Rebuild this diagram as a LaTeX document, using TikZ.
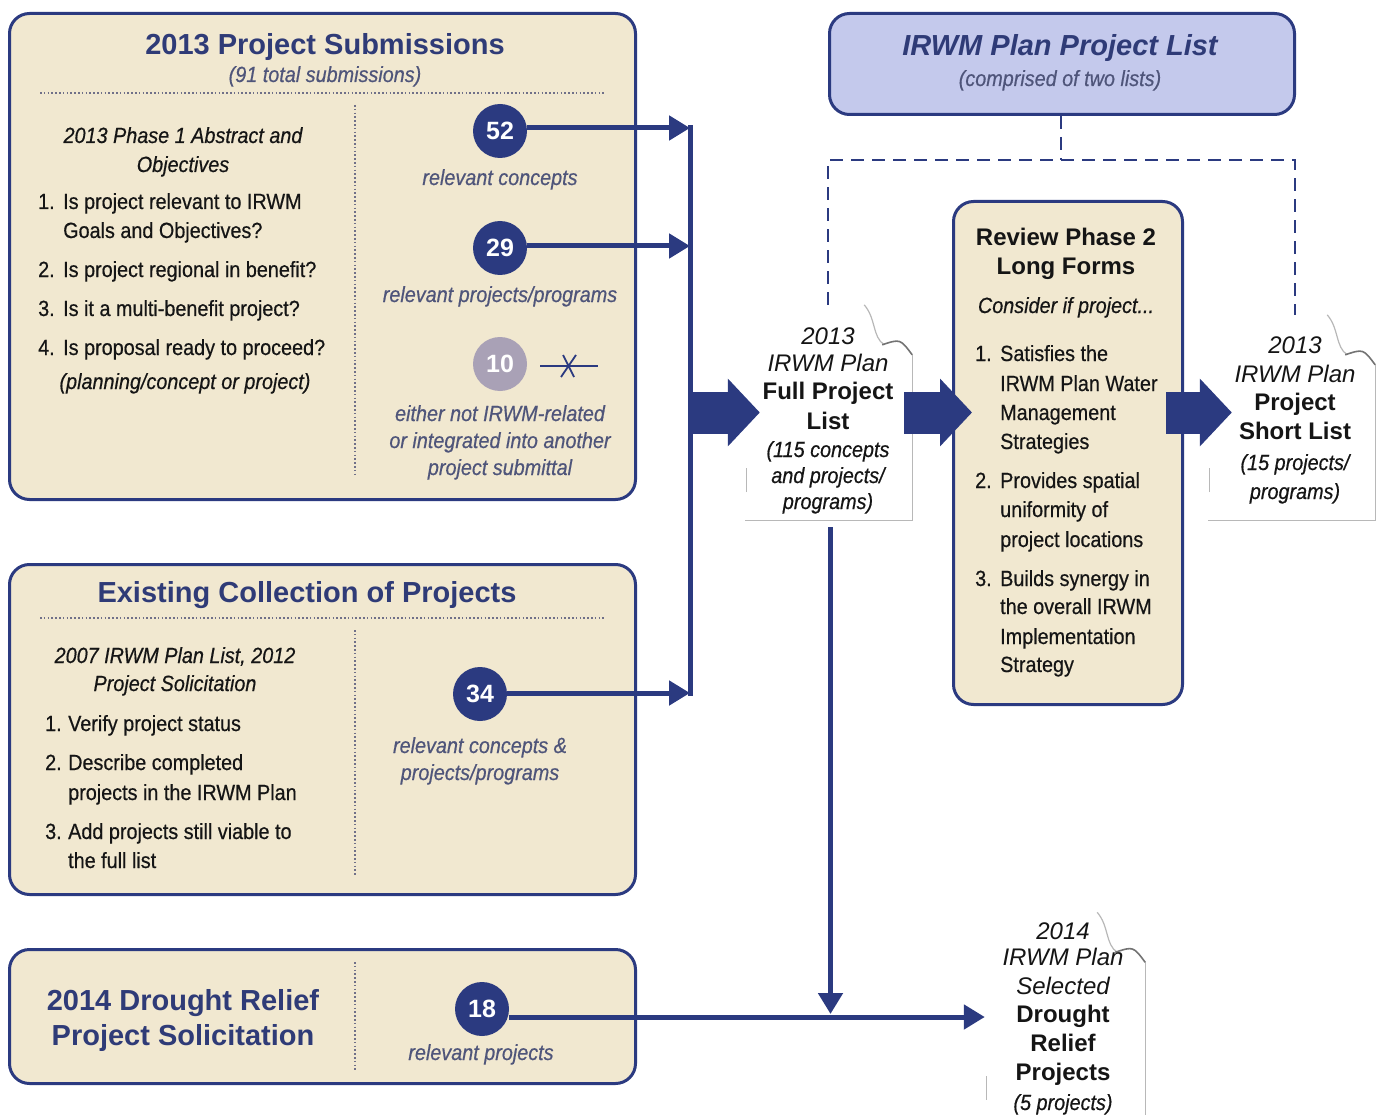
\documentclass[tikz,border=0pt]{standalone}
\usepackage{fontspec}
\setmainfont{Liberation Sans}
\newfontfamily\nar[FakeStretch=0.9, FakeBold=0.5]{Liberation Sans}
\usetikzlibrary{arrows.meta,calc}
\definecolor{navy}{HTML}{2B3A80}
\definecolor{beige}{HTML}{F1E8D0}
\definecolor{lav}{HTML}{C4C9EC}
\definecolor{ttl}{HTML}{2F3B77}
\definecolor{gtxt}{HTML}{4F557A}
\definecolor{ink}{HTML}{151515}
\definecolor{graycirc}{HTML}{A9A1B6}
\definecolor{dotc}{HTML}{707088}
\tikzset{
  panel/.style={draw=navy, line width=3pt, fill=beige, rounded corners=20pt, anchor=north west, inner sep=0},
  ttlfont/.style={font=\fontsize{29}{32}\selectfont\bfseries, text=ttl},
  body/.style={font=\nar\fontsize{22}{29}\selectfont, text=ink},
  bodyit/.style={font=\nar\fontsize{22}{29}\selectfont\itshape, text=ink},
  note/.style={font=\nar\fontsize{22}{27}\selectfont\itshape, text=gtxt},
  docit/.style={font=\fontsize{24}{28}\selectfont\itshape, text=ink},
  docbf/.style={font=\fontsize{24}{28}\selectfont\bfseries, text=ink},
  revbf/.style={font=\fontsize{24}{28}\selectfont\bfseries, text=ink},
  num/.style={circle, fill=navy, text=white, font=\fontsize{25}{25}\selectfont\bfseries, minimum size=54pt, inner sep=0},
  flow/.style={draw=navy, line width=5pt, -{Triangle[length=21pt,width=24pt]}},
  fat/.style={draw=navy, line width=42pt, -{Triangle[length=32pt,width=66pt]}},
  dotline/.style={dotc, line width=1.6pt, dash pattern=on 1.6pt off 2.2pt},
  dashline/.style={navy, line width=2.5pt, dash pattern=on 13pt off 8pt},
  docbox/.style={minimum width=#1, inner sep=0},
  docedge/.style={draw=black!28, line width=1.2pt},
}
\newcommand\tc[5]{\node[#4, anchor=base] (#1) at (#2,#3) {#5};}
\newcommand\tw[5]{\node[#4, anchor=base west, inner sep=0] (#1) at (#2,#3) {#5};}
\newcommand\docdeco[1]{%
  \fill[white] (#1.south west) -- (#1.north west) -- ($(#1.north east)+(-48,0)$) -- ($(#1.north east)+(0,48)$) -- (#1.south east) -- cycle;
  \draw[docedge] ($(#1.north east)+(0,50)$) -- (#1.south east) -- (#1.south west);
  \draw[docedge] ($(#1.south west)+(2,-28)$) -- ($(#1.south west)+(2,-52)$);
  \draw[docedge] ($(#1.north east)+(-48,0)$) .. controls ($(#1.north east)+(-36,14)$) and ($(#1.north east)+(-40,32)$) .. ($(#1.north east)+(-28,40)$);
  \draw[black!55, line width=1.6pt] ($(#1.north east)+(-30,40)$) .. controls ($(#1.north east)+(-12,34)$) .. ($(#1.north east)+(0,50)$);
}
\begin{document}
\begin{tikzpicture}[x=1pt,y=-1pt]
\useasboundingbox (0,0) rectangle (1378,1115);

% ---------------- panels ----------------
\node[panel, minimum width=626pt, minimum height=486pt] (p1) at (8,12) {};
\node[panel, minimum width=626pt, minimum height=330pt] (p2) at (8,563) {};
\node[panel, minimum width=626pt, minimum height=134pt] (p3) at (8,948) {};
\node[panel, fill=lav, minimum width=465pt, minimum height=101pt] (top) at (828,12) {};
\node[panel, minimum width=229pt, minimum height=503pt] (rev) at (952,200) {};

% ---------------- panel 1 ----------------
\tc{t1}{325}{55}{ttlfont}{2013 Project Submissions}
\tc{t1s}{325}{82}{note}{(91 total submissions)}
\draw[dotline] (40,93) -- (605,93);
\draw[dotline] (355,105) -- (355,475);
\tc{a1}{183}{143}{bodyit}{2013 Phase 1 Abstract and}
\tc{a2}{183}{172}{bodyit}{Objectives}
\tw{n1}{38}{209}{body}{1.}
\tw{i1a}{63}{209}{body}{Is project relevant to IRWM}
\tw{i1b}{63}{238}{body}{Goals and Objectives?}
\tw{n2}{38}{277}{body}{2.}
\tw{i2}{63}{277}{body}{Is project regional in benefit?}
\tw{n3}{38}{316}{body}{3.}
\tw{i3}{63}{316}{body}{Is it a multi-benefit project?}
\tw{n4}{38}{355}{body}{4.}
\tw{i4}{63}{355}{body}{Is proposal ready to proceed?}
\tc{i4b}{185}{389}{bodyit}{(planning/concept or project)}

\node[num] (c52) at (500,131) {52};
\tc{r52}{500}{185}{note}{relevant concepts}
\node[num] (c29) at (500,248) {29};
\tc{r29}{500}{302}{note}{relevant projects/programs}
\node[num, fill=graycirc] (c10) at (500,364) {10};
\draw[navy, line width=2pt] (540,366) -- (598,366);
\draw[navy, line width=1.8pt] (563,355) -- (574,377) (576,355) -- (561,377);
\tc{r10a}{500}{421}{note}{either not IRWM-related}
\tc{r10b}{500}{448}{note}{or integrated into another}
\tc{r10c}{500}{475}{note}{project submittal}

% ---------------- panel 2 ----------------
\tc{t2}{307}{602}{ttlfont}{Existing Collection of Projects}
\draw[dotline] (40,618) -- (605,618);
\draw[dotline] (355,630) -- (355,875);
\tc{b1}{175}{663}{bodyit}{2007 IRWM Plan List, 2012}
\tc{b2}{175}{691}{bodyit}{Project Solicitation}
\tw{m1}{45}{731}{body}{1.}
\tw{j1}{68}{731}{body}{Verify project status}
\tw{m2}{45}{770}{body}{2.}
\tw{j2a}{68}{770}{body}{Describe completed}
\tw{j2b}{68}{800}{body}{projects in the IRWM Plan}
\tw{m3}{45}{839}{body}{3.}
\tw{j3a}{68}{839}{body}{Add projects still viable to}
\tw{j3b}{68}{868}{body}{the full list}
\node[num] (c34) at (480,694) {34};
\tc{r34a}{480}{753}{note}{relevant concepts \&}
\tc{r34b}{480}{780}{note}{projects/programs}

% ---------------- panel 3 ----------------
\tc{t3a}{183}{1010}{ttlfont}{2014 Drought Relief}
\tc{t3b}{183}{1045}{ttlfont}{Project Solicitation}
\draw[dotline] (355,962) -- (355,1070);
\node[num] (c18) at (482,1009) {18};
\tc{r18}{481}{1060}{note}{relevant projects}

% ---------------- top list box ----------------
\tc{tt}{1060}{56}{ttlfont, font=\fontsize{29}{32}\selectfont\bfseries\itshape}{IRWM Plan Project List}
\tc{tts}{1060}{86}{note}{(comprised of two lists)}

% ---------------- review box ----------------
\tc{v1}{1066}{246}{revbf}{Review Phase 2}
\tc{v2}{1066}{275}{revbf}{Long Forms}
\tc{v3}{1066}{313}{bodyit}{Consider if project...}
\tw{q1}{975}{361}{body}{1.}
\tw{s1a}{1000}{361}{body}{Satisfies the}
\tw{s1b}{1000}{391}{body}{IRWM Plan Water}
\tw{s1c}{1000}{420}{body}{Management}
\tw{s1d}{1000}{449}{body}{Strategies}
\tw{q2}{975}{488}{body}{2.}
\tw{s2a}{1000}{488}{body}{Provides spatial}
\tw{s2b}{1000}{517}{body}{uniformity of}
\tw{s2c}{1000}{547}{body}{project locations}
\tw{q3}{975}{586}{body}{3.}
\tw{s3a}{1000}{586}{body}{Builds synergy in}
\tw{s3b}{1000}{614}{body}{the overall IRWM}
\tw{s3c}{1000}{644}{body}{Implementation}
\tw{s3d}{1000}{672}{body}{Strategy}

% ---------------- documents ----------------
\node[docbox=167pt, minimum height=215pt] (full) at (828.5,412.5) {};
\node[docbox=167pt, minimum height=205pt] (short) at (1291.5,417.5) {};
\node[docbox=160pt, minimum height=215pt] (drought) at (1065,1020) {};
\docdeco{full}
\docdeco{short}
\docdeco{drought}

\tc{f1}{828}{344}{docit}{2013}
\tc{f2}{828}{371}{docit}{IRWM Plan}
\tc{f3}{828}{399}{docbf}{Full Project}
\tc{f4}{828}{429}{docbf}{List}
\tc{f5}{828}{457}{bodyit}{(115 concepts}
\tc{f6}{828}{483}{bodyit}{and projects/}
\tc{f7}{828}{509}{bodyit}{programs)}

\tc{h1}{1295}{353}{docit}{2013}
\tc{h2}{1295}{382}{docit}{IRWM Plan}
\tc{h3}{1295}{410}{docbf}{Project}
\tc{h4}{1295}{439}{docbf}{Short List}
\tc{h5}{1295}{470}{bodyit}{(15 projects/}
\tc{h6}{1295}{499}{bodyit}{programs)}

\tc{d1}{1063}{939}{docit}{2014}
\tc{d2}{1063}{965}{docit}{IRWM Plan}
\tc{d3}{1063}{994}{docit}{Selected}
\tc{d4}{1063}{1022}{docbf}{Drought}
\tc{d5}{1063}{1051}{docbf}{Relief}
\tc{d6}{1063}{1080}{docbf}{Projects}
\tc{d7}{1063}{1110}{bodyit}{(5 projects)}

% ---------------- dashed connectors ----------------
\coordinate (dj) at (1061,160);
\draw[dashline] (top.south -| dj) -- (dj);
\draw[dashline] (full.north -| 828,0) |- (dj) -| (short.north -| 1295,0);

% ---------------- flow connectors ----------------
\coordinate (bus) at (690,0);
\draw[navy, line width=5pt, line cap=rect] ($(c52 -| bus)+(0,-3)$) -- ($(c34 -| bus)+(0,-1)$);
\draw[flow] ($(c52.east)+(0,-3)$) -- ($(c52 -| bus)+(0,-3)$);
\draw[flow] ($(c29.east)+(0,-2)$) -- ($(c29 -| bus)+(0,-2)$);
\draw[flow] ($(c34.east)+(0,-1)$) -- ($(c34 -| bus)+(0,-1)$);
\draw[fat] (bus |- full.west) -- ($(full.west)+(15,0)$);
\draw[fat] ($(full.east)+(-8,0)$) -- ($(rev.west |- full.west)+(20,0)$);
\draw[fat] ($(rev.east |- full.west)+(-18,0)$) -- ($(short.west |- full.west)+(24,0)$);

\coordinate (hl) at (0,1017);
\draw[flow] (c18.east |- hl) -- (drought.west |- hl);
\draw[flow] ($(full.south)+(2,7)$) -- ($(full.south |- hl)+(2,-3)$);
\end{tikzpicture}
\end{document}
